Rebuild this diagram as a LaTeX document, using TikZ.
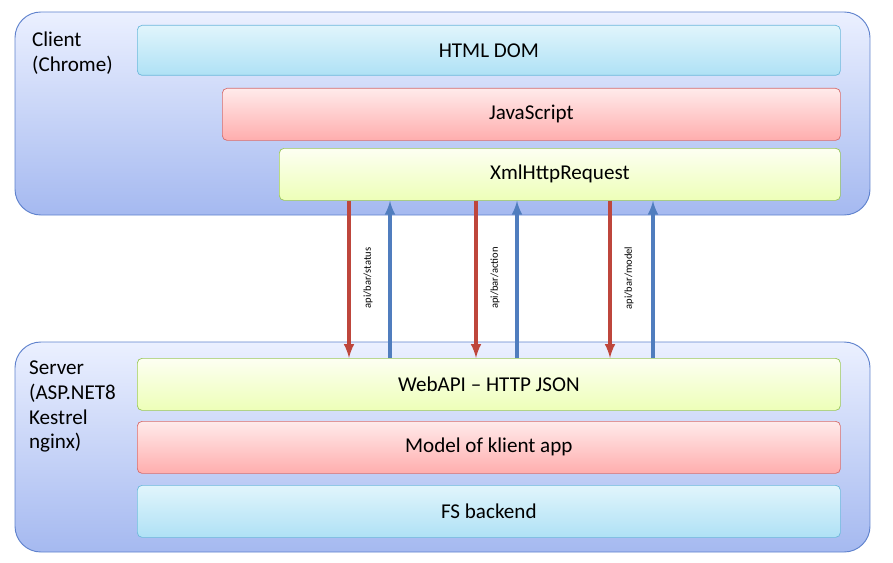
\documentclass[tikz,border=0pt]{standalone}
\usepackage{fontspec}
\setmainfont{Carlito}
\usepackage{xcolor}
\usetikzlibrary{positioning}
\definecolor{boxline}{RGB}{95,130,205}
\definecolor{boxtop}{RGB}{235,240,255}
\definecolor{boxbot}{RGB}{165,185,240}
\definecolor{cyanline}{RGB}{110,185,220}
\definecolor{cyantop}{RGB}{225,245,252}
\definecolor{cyanbot}{RGB}{175,225,245}
\definecolor{redline}{RGB}{215,110,110}
\definecolor{greenline}{RGB}{155,200,90}
\definecolor{downred}{RGB}{190,70,60}
\definecolor{upblue}{RGB}{80,125,190}
\tikzset{
  layer/.style={draw, rounded corners=4pt, line width=0.6pt, anchor=north west, font=\fontsize{18}{21}\selectfont},
  cyanbar/.style={layer, draw=cyanline, top color=cyantop, bottom color=cyanbot},
  redbar/.style={layer, draw=redline, top color=red!8, bottom color=red!32},
  greenbar/.style={layer, draw=greenline, top color=green!15!yellow!5, bottom color=green!25!yellow!28},
  tier/.style={draw=boxline, line width=0.8pt, rounded corners=22pt, top color=boxtop, bottom color=boxbot},
  callarrow/.style={line width=3pt, -latex, downred},
  replyarrow/.style={line width=3pt, -latex, upblue},
  route/.style={font=\fontsize{9}{10}\selectfont, rotate=90}
}
\begin{document}
\begin{tikzpicture}[x=0.03cm, y=-0.03cm]
\useasboundingbox (0,0) rectangle (893,563);

% Client
\draw[tier] (15,12) rectangle (870,215);
\node[anchor=north west, align=left, font=\fontsize{18}{21}\selectfont] (client) at (28,28) {Client\\(Chrome)};
\node[cyanbar, minimum width=703*0.03cm, minimum height=50*0.03cm] (dom) at (137,25) {HTML DOM};
\node[redbar, minimum width=618*0.03cm, minimum height=52*0.03cm] (js) at (222,88) {JavaScript};
\node[greenbar, minimum width=561*0.03cm, minimum height=52*0.03cm] (xhr) at (279,148) {XmlHttpRequest};

% Server
\draw[tier] (15,342) rectangle (870,552);
\node[anchor=north west, align=left, font=\fontsize{18}{21}\selectfont] (server) at (25,357) {Server\\(ASP.NET8\\Kestrel\\nginx)};
\node[greenbar, minimum width=703*0.03cm, minimum height=52*0.03cm] (webapi) at (137,358) {WebAPI -- HTTP JSON};
\node[redbar, minimum width=703*0.03cm, minimum height=52*0.03cm] (model) at (137,421) {Model of klient app};
\node[cyanbar, minimum width=703*0.03cm, minimum height=52*0.03cm] (fs) at (137,485) {FS backend};

% Calls
\foreach \xd/\xu/\name in {349/390/status, 476/517/action, 610/653/model}{
  \draw[callarrow] (\xd,0 |- xhr.south) -- (\xd,0 |- webapi.north);
  \draw[replyarrow] (\xu,0 |- webapi.north) -- (\xu,0 |- xhr.south);
  \node[route] (r\name) at (\xd+19,278) {api/bar/\name};
}
\end{tikzpicture}
\end{document}
